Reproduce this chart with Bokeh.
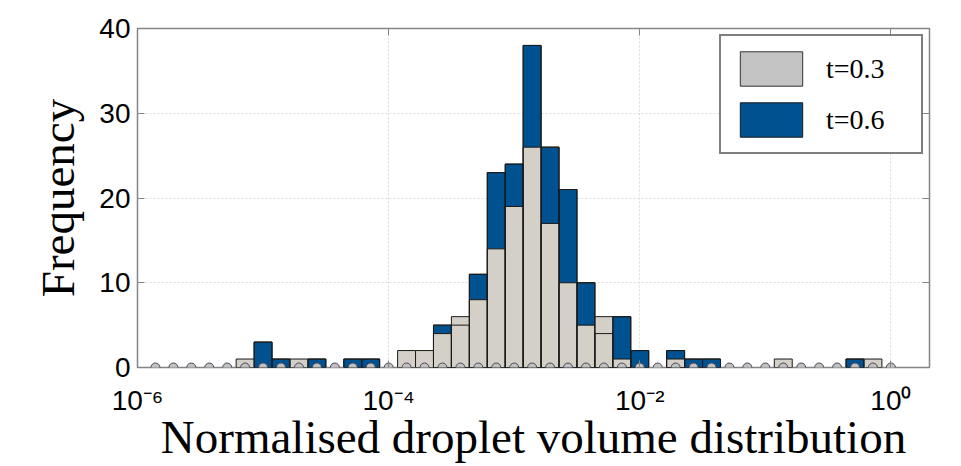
import numpy as np
from bokeh.plotting import figure
from bokeh.models import (ColumnDataSource, Range1d, FixedTicker, LinearAxis, LogAxis,
                          Legend, LegendItem, CustomJSTickFormatter)
from bokeh.embed import file_html
from bokeh.resources import INLINE

# ---- data ----
bins_per_decade = 7
bin_index = list(range(1, 43))          # bin k is centred at 10**(-6 + k/7)
t03_counts = [0, 0, 0, 0, 0, 1, 0, 0, 1, 0, 0, 0, 0, 0, 2,
              2, 4, 6, 8, 14, 19, 26, 17, 10, 5, 6, 1, 0, 0, 1,
              0, 0, 0, 0, 0, 1, 0, 0, 0, 0, 1, 0]
t06_counts = [0, 0, 0, 0, 0, 0, 3, 1, 0, 1, 0, 1, 1, 0, 0,
              0, 5, 5, 11, 23, 24, 38, 26, 21, 10, 4, 6, 2, 0, 2,
              1, 1, 0, 0, 0, 0, 0, 0, 0, 1, 0, 0]
series_labels = ["t=0.3", "t=0.6"]
x_ticks = [1e-6, 1e-4, 1e-2, 1e0]
x_tick_labels = ["10\u207b\u2076", "10\u207b\u2074", "10\u207b\u00b2", "10\u2070"]
y_ticks = [0, 10, 20, 30, 40]

BLUE = "#00518f"
GRAY = "#d4d0c8"
LEG_GRAY = "#c3c3c3"

logc = -6 + np.array(bin_index) / bins_per_decade
centers = 10 ** logc
lefts = 10 ** (logc - 0.5 / bins_per_decade)
rights = 10 ** (logc + 0.5 / bins_per_decade)


def bars(counts):
    c = np.array(counts)
    m = c > 0
    return ColumnDataSource(dict(left=lefts[m], right=rights[m], top=c[m], bottom=np.zeros(m.sum())))


p = figure(width=961, height=466, x_axis_type="log",
           x_range=Range1d(1e-6, 2.03), y_range=Range1d(0, 40),
           output_backend="svg", toolbar_location=None,
           min_border_left=137, min_border_right=32, min_border_top=28, min_border_bottom=99)
p.background_fill_color = "white"
p.border_fill_color = "white"
p.outline_line_color = "#858585"
p.outline_line_width = 1.5

src06 = bars(t06_counts)
src03 = bars(t03_counts)
r06 = p.quad(left="left", right="right", top="top", bottom="bottom", source=src06,
             fill_color=BLUE, line_color="#1a1a1a", line_width=1)
r03 = p.quad(left="left", right="right", top="top", bottom="bottom", source=src03,
             fill_color=GRAY, line_color="#1a1a1a", line_width=1)
p.quad(left="left", right="right", top="top", bottom="bottom", source=src06,
       fill_alpha=0, line_color="#1a1a1a", line_width=1)

p.scatter(x=centers, y=np.zeros(len(centers)), size=9, marker="circle",
          fill_color="#c0c0c0", line_color="#4a4a5a", line_width=1)

# hidden renderer carrying the (slightly different) legend swatch colour
r03_leg = p.quad(left="left", right="right", top="top", bottom="bottom", source=src03,
                 fill_color=LEG_GRAY, line_color="#333333", line_width=1, visible=False)

legend = Legend(items=[LegendItem(label=series_labels[0], renderers=[r03_leg]),
                       LegendItem(label=series_labels[1], renderers=[r06])],
                location="top_right", margin=6, padding=11, spacing=8,
                glyph_width=78, glyph_height=43, label_height=43, label_width=84,
                label_standoff=16,
                label_text_font="Liberation Serif", label_text_font_size="28px",
                label_text_color="black",
                border_line_color="black", border_line_width=2,
                background_fill_color="white", background_fill_alpha=1)
p.add_layout(legend)

# axes
fmt = CustomJSTickFormatter(args=dict(tvals=x_ticks, tlabels=x_tick_labels), code="""
const i = tvals.findIndex(t => Math.abs(Math.log10(t) - Math.log10(tick)) < 1e-6);
return i >= 0 ? tlabels[i] : String(tick);
""")
xa = p.xaxis[0]
xa.ticker = FixedTicker(ticks=x_ticks)
xa.formatter = fmt
ya = p.yaxis[0]
ya.ticker = FixedTicker(ticks=y_ticks)

for ax in (xa, ya):
    ax.axis_line_color = None
    ax.major_tick_in = 7
    ax.major_tick_out = 0
    ax.major_tick_line_color = "#858585"
    ax.minor_tick_line_color = None
    ax.major_label_text_font = "Liberation Sans"
    ax.major_label_text_font_size = "28px"
    ax.major_label_text_color = "black"
    ax.axis_label_text_font = "Liberation Serif"
    ax.axis_label_text_font_size = "47px"
    ax.axis_label_text_font_style = "normal"
    ax.axis_label_text_color = "black"

xa.axis_label = "Normalised droplet volume distribution"
ya.axis_label = "Frequency"
xa.major_label_standoff = 17
xa.axis_label_standoff = -8
ya.major_label_standoff = 7
ya.axis_label_standoff = 12

top_ax = LogAxis(ticker=FixedTicker(ticks=x_ticks), axis_line_color=None,
                 major_tick_in=7, major_tick_out=0, major_tick_line_color="#858585",
                 minor_tick_line_color=None, major_label_text_font_size="1px",
                 major_label_text_alpha=0, major_label_standoff=0)
right_ax = LinearAxis(ticker=FixedTicker(ticks=y_ticks), axis_line_color=None,
                      major_tick_in=7, major_tick_out=0, major_tick_line_color="#858585",
                      minor_tick_line_color=None, major_label_text_font_size="1px",
                      major_label_text_alpha=0, major_label_standoff=0)
p.add_layout(top_ax, "above")
p.add_layout(right_ax, "right")

p.xgrid.ticker = FixedTicker(ticks=x_ticks)
p.ygrid.ticker = FixedTicker(ticks=y_ticks)
for g in (p.xgrid[0], p.ygrid[0]):
    g.grid_line_color = "#dcdcdc"
    g.grid_line_dash = "2 2"
    g.grid_line_width = 1

open("out.html", "w").write(file_html(p, INLINE))
